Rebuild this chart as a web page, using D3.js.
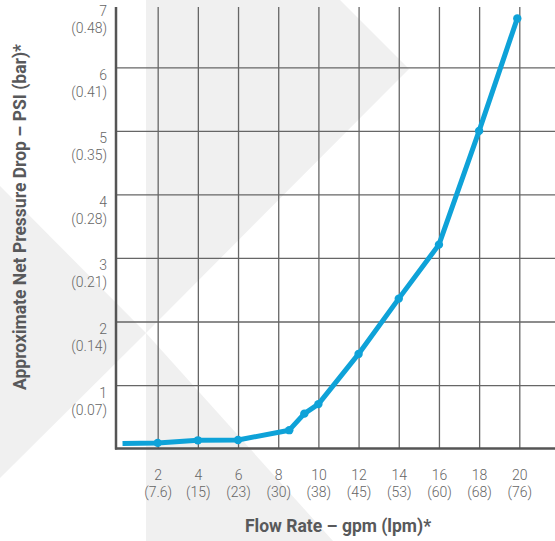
<!DOCTYPE html>
<html>
<head>
<meta charset="utf-8">
<script src="https://cdn.jsdelivr.net/npm/d3@7"></script>
<style>
  body { margin: 0; background: #fff; }
  text { font-family: Roboto, "DejaVu Sans", sans-serif; }
</style>
</head>
<body>
<div id="chart"></div>
<script>
// dane
const flowGpm = [0.25, 2, 4, 6, 8.55, 9.3, 10, 12, 14, 16, 18, 19.9];
const pressurePsi = [0.08, 0.09, 0.13, 0.135, 0.29, 0.55, 0.70, 1.49, 2.36, 3.21, 5.0, 6.77];

const xTicks = [2, 4, 6, 8, 10, 12, 14, 16, 18, 20];
const xTicksLpm = ["7.6", "15", "23", "30", "38", "45", "53", "60", "68", "76"];
const yTicks = [1, 2, 3, 4, 5, 6, 7];
const yTicksBar = ["0.07", "0.14", "0.21", "0.28", "0.35", "0.41", "0.48"];

const width = 555, height = 541;
const plotLeft = 116, plotTop = 7, plotRight = 555;

const svg = d3.select("#chart").append("svg")
    .attr("width", width)
    .attr("height", height);

// tło - jasnoszare kształty
const bg = svg.append("g").attr("fill", "#f0f0f0");
bg.append("polygon").attr("points", "146,0 340,0 409,69 146,333");
bg.append("polygon").attr("points", "0,186 146,333 0,478");
bg.append("polygon").attr("points", "146,333 333,541 146,541");

const x = d3.scaleLinear().domain([0, 20]).range([117.5, 519.3]);
const y = d3.scaleLinear().domain([0, 7]).range([448.6, 3.8]);

// siatka pionowa + etykiety osi X
const gx = svg.append("g")
    .attr("transform", `translate(0,${y(0)})`)
    .call(d3.axisBottom(x).tickValues(xTicks).tickSize(-(y(0) - plotTop)).tickFormat(""));
gx.select(".domain").remove();
gx.selectAll(".tick line").attr("stroke", "#666").attr("stroke-width", 1.3);
gx.selectAll(".tick").each(function(d, i) {
    const t = d3.select(this).append("text")
        .attr("fill", "#666")
        .attr("font-size", 14)
        .attr("font-weight", 300)
        .attr("text-anchor", "middle");
    t.append("tspan").attr("x", 0).attr("y", 31).text(d);
    t.append("tspan").attr("x", 0).attr("y", 48).text("(" + xTicksLpm[i] + ")");
});

// siatka pozioma + etykiety osi Y
const gy = svg.append("g")
    .attr("transform", `translate(${plotLeft},0)`)
    .call(d3.axisLeft(y).tickValues(yTicks).tickSize(-(plotRight - plotLeft)).tickFormat(""));
gy.select(".domain").remove();
gy.selectAll(".tick line")
    .attr("stroke", "#666").attr("stroke-width", 1.3)
    .attr("display", d => d === 7 ? "none" : null);
gy.selectAll(".tick").each(function(d, i) {
    const t = d3.select(this).append("text")
        .attr("fill", "#666")
        .attr("font-size", 14)
        .attr("font-weight", 300)
        .attr("text-anchor", "end");
    t.append("tspan").attr("x", -9).attr("y", 12).text(d);
    t.append("tspan").attr("x", -9).attr("y", 29).text("(" + yTicksBar[i] + ")");
});

// osie
svg.append("line")
    .attr("x1", plotLeft).attr("x2", plotLeft)
    .attr("y1", plotTop).attr("y2", y(0) + 1)
    .attr("stroke", "#555").attr("stroke-width", 2.5);
svg.append("line")
    .attr("x1", plotLeft - 1).attr("x2", plotRight)
    .attr("y1", y(0)).attr("y2", y(0))
    .attr("stroke", "#555").attr("stroke-width", 2.5);

// linia danych
const pts = flowGpm.map((f, i) => [f, pressurePsi[i]]);
svg.append("path")
    .datum(pts)
    .attr("fill", "none")
    .attr("stroke", "#0ea2d8")
    .attr("stroke-width", 5)
    .attr("stroke-linejoin", "round")
    .attr("d", d3.line().x(d => x(d[0])).y(d => y(d[1])));

svg.append("g").selectAll("circle")
    .data(pts.slice(1))
    .enter()
    .append("circle")
    .attr("cx", d => x(d[0]))
    .attr("cy", d => y(d[1]))
    .attr("r", 4.2)
    .attr("fill", "#0ea2d8");

// tytuły osi
svg.append("text")
    .attr("x", 338).attr("y", 532)
    .attr("text-anchor", "middle")
    .attr("font-size", 17.5)
    .attr("font-weight", "bold")
    .attr("fill", "#58595b")
    .text("Flow Rate – gpm (lpm)*");

svg.append("text")
    .attr("transform", "translate(26,217) rotate(-90)")
    .attr("text-anchor", "middle")
    .attr("font-size", 17.5)
    .attr("font-weight", "bold")
    .attr("fill", "#58595b")
    .text("Approximate Net Pressure Drop – PSI (bar)*");
</script>
</body>
</html>
